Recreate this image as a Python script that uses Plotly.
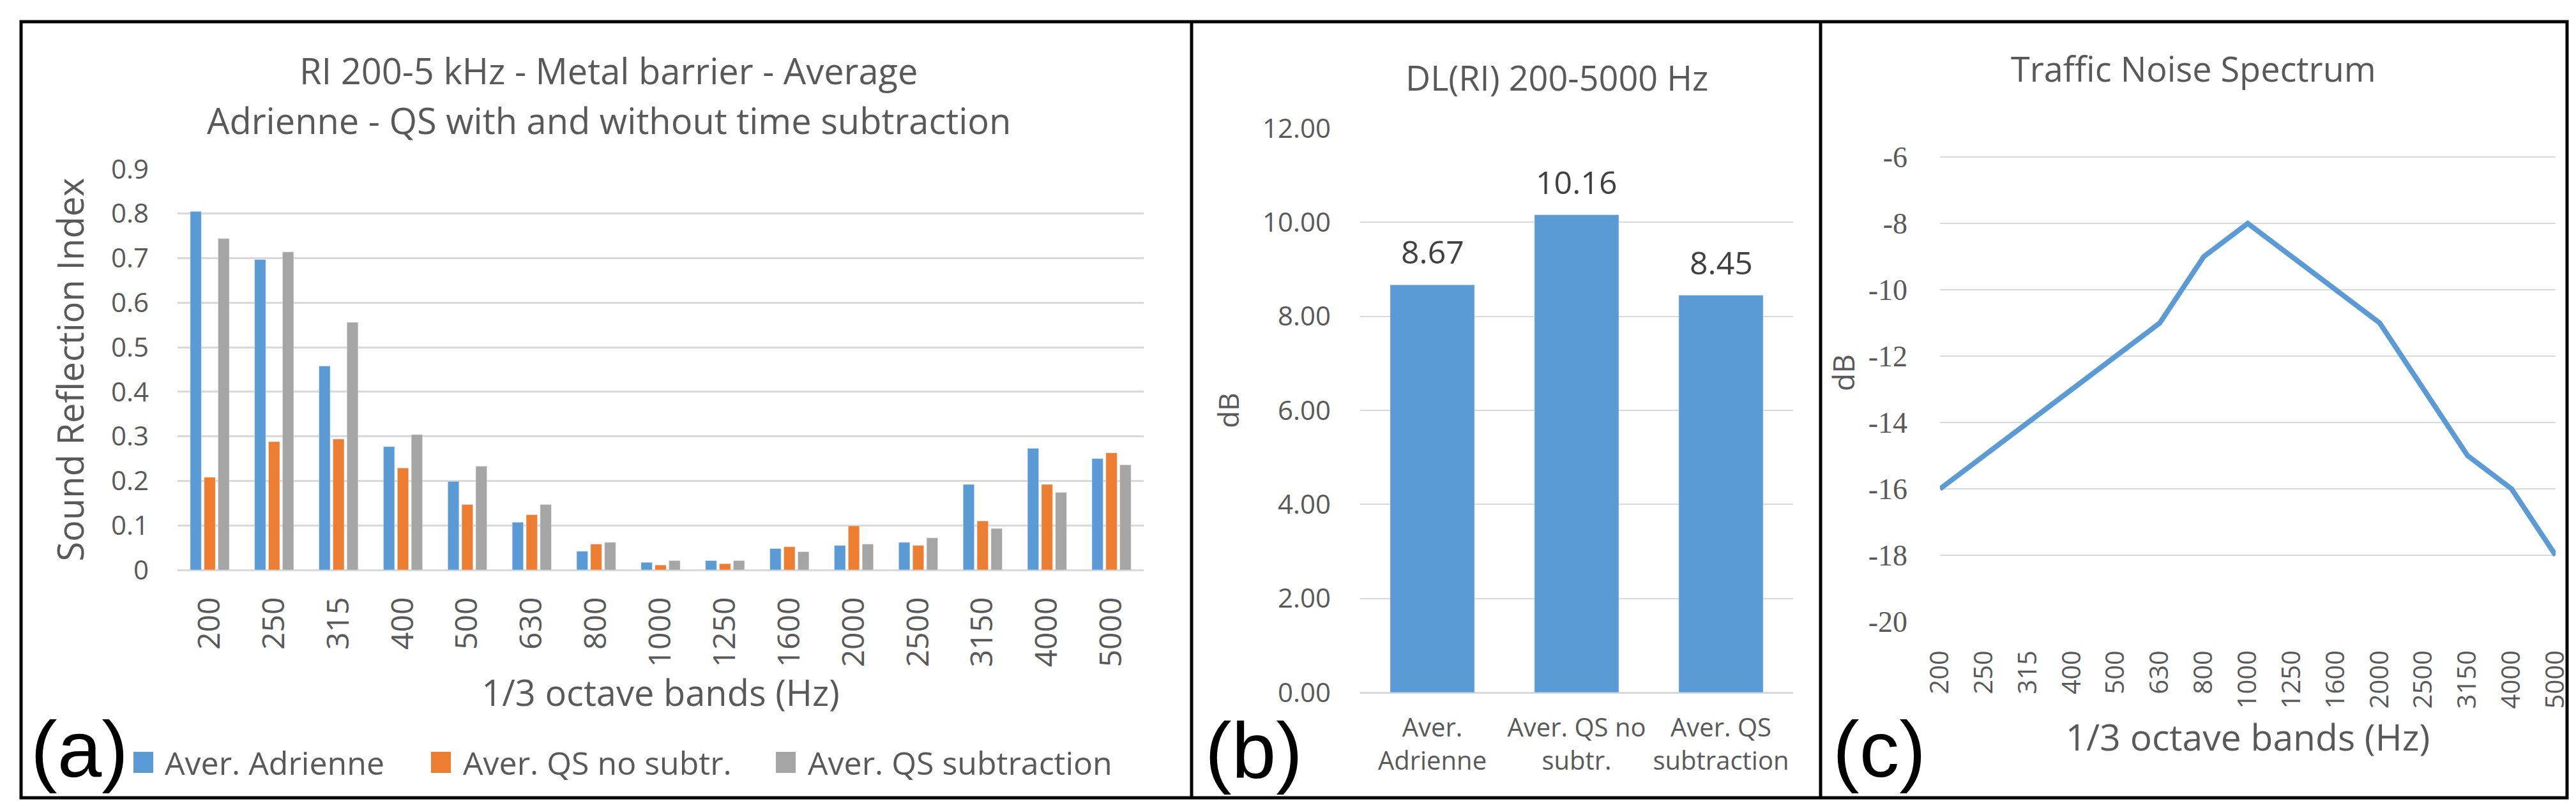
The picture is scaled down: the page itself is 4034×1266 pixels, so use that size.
import plotly.graph_objects as go

# ---------------- data ----------------
bands = ["200", "250", "315", "400", "500", "630", "800", "1000", "1250",
         "1600", "2000", "2500", "3150", "4000", "5000"]
ri_adrienne = [0.805, 0.697, 0.458, 0.277, 0.199, 0.107, 0.042, 0.017, 0.021,
               0.048, 0.055, 0.062, 0.192, 0.273, 0.250]
ri_qs_nosubtr = [0.208, 0.288, 0.294, 0.229, 0.147, 0.124, 0.058, 0.011, 0.014,
                 0.052, 0.099, 0.055, 0.110, 0.192, 0.263]
ri_qs_subtr = [0.744, 0.714, 0.556, 0.304, 0.233, 0.147, 0.062, 0.021, 0.021,
               0.041, 0.058, 0.072, 0.093, 0.174, 0.236]
series_names = ["Aver. Adrienne", "Aver. QS no subtr.", "Aver. QS subtraction"]

dl_categories = ["Aver.<br>Adrienne", "Aver. QS no<br>subtr.", "Aver. QS<br>subtraction"]
dl_values = [8.67, 10.16, 8.45]

traffic_db = [-16, -15, -14, -13, -12, -11, -9, -8, -9, -10, -11, -13, -15, -16, -18]
traffic_major_ticks = [-20, -18, -16, -14, -12, -10, -8, -6]
traffic_grid = [-18, -16, -14, -12, -10, -8, -6, -5]

# ---------------- style ----------------
W, H = 4034, 1266
BLUE, ORANGE, GRAY = "#5B9BD5", "#ED7D31", "#A5A5A5"
TXT = "#595959"
GRID = "#D9D9D9"
FONT = "Open Sans"


def px(x):
    return x / W


def py(y):
    return 1 - y / H


fig = go.Figure()

for vals, name, col in zip([ri_adrienne, ri_qs_nosubtr, ri_qs_subtr], series_names,
                           [BLUE, ORANGE, GRAY]):
    fig.add_trace(go.Bar(x=bands, y=vals, name=name, marker_color=col,
                         xaxis="x", yaxis="y", showlegend=False))

fig.add_trace(go.Bar(x=dl_categories, y=dl_values, name="DL(RI)", marker_color=BLUE,
                     width=0.585, xaxis="x2", yaxis="y2", showlegend=False))

fig.add_trace(go.Scatter(x=bands, y=traffic_db, mode="lines", name="Traffic noise",
                         line=dict(color=BLUE, width=8),
                         xaxis="x3", yaxis="y3", showlegend=False))

axis_common = dict(automargin=False, ticks="", showline=False, color=TXT)

fig.update_layout(
    width=W, height=H,
    margin=dict(l=0, r=0, t=0, b=0),
    paper_bgcolor="white", plot_bgcolor="white",
    font=dict(family=FONT, color=TXT),
    barmode="group", bargap=0.35, bargroupgap=0.2,
    showlegend=False,
    xaxis=dict(domain=[px(270), px(1783)], anchor="y", type="category",
               tickangle=-90, tickfont=dict(size=48, color=TXT),
               ticklabelstandoff=32, showgrid=False, zeroline=False,
               title=dict(text="1/3 octave bands (Hz)", font=dict(size=56, color=TXT),
                          standoff=22),
               **axis_common),
    yaxis=dict(domain=[py(885), py(257)], anchor="x", range=[0, 0.9], dtick=0.1,
               showgrid=True, gridcolor=GRID, gridwidth=3,
               zeroline=True, zerolinecolor=GRID, zerolinewidth=3,
               tickfont=dict(size=42, color=TXT), ticklabelstandoff=44,
               title=dict(text="Sound Reflection Index", font=dict(size=56, color=TXT),
                          standoff=24),
               **axis_common),
    xaxis2=dict(domain=[px(2122), px(2800)], anchor="y2", type="category",
                tickfont=dict(size=40, color=TXT), ticklabelstandoff=28,
                showgrid=False, zeroline=False, **axis_common),
    yaxis2=dict(domain=[py(1077), py(193)], anchor="x2", range=[0, 12], dtick=2,
                tickformat=".2f", showgrid=True, gridcolor=GRID, gridwidth=2,
                zeroline=True, zerolinecolor=GRID, zerolinewidth=3,
                tickfont=dict(size=42, color=TXT), ticklabelstandoff=45,
                title=dict(text="dB", font=dict(size=44, color=TXT), standoff=22),
                **axis_common),
    xaxis3=dict(domain=[px(3030), px(3994)], anchor="y3", type="category",
                tickangle=-90, tickfont=dict(size=40, color=TXT),
                ticklabelstandoff=36, showgrid=False, zeroline=False,
                title=dict(text="1/3 octave bands (Hz)", font=dict(size=57, color=TXT),
                           standoff=26),
                **axis_common),
    yaxis3=dict(domain=[py(966), py(186)], anchor="x3", range=[-20, -5],
                tickvals=traffic_major_ticks,
                ticktext=[str(v) for v in traffic_major_ticks],
                showgrid=False, zeroline=False,
                minor=dict(tickvals=traffic_grid, showgrid=True, gridcolor=GRID,
                           gridwidth=2, ticks=""),
                tickfont=dict(size=46, color=TXT, family="Liberation Serif"),
                ticklabelstandoff=50,
                title=dict(text="dB", font=dict(size=46, color=TXT), standoff=6),
                **axis_common),
)

annotations = [
    dict(x=px(945), y=py(102), text="RI 200-5 kHz - Metal barrier - Average",
         font=dict(size=56, color=TXT)),
    dict(x=px(945), y=py(180), text="Adrienne - QS with and without time subtraction",
         font=dict(size=56, color=TXT)),
    dict(x=px(2430), y=py(113), text="DL(RI) 200-5000 Hz", font=dict(size=54, color=TXT)),
    dict(x=px(3427), y=py(99), text="Traffic Noise Spectrum", font=dict(size=54, color=TXT)),
    dict(x=px(116), y=py(1165), text="(a)",
         font=dict(size=125, color="black", family="Liberation Sans")),
    dict(x=px(1955), y=py(1167), text="(b)",
         font=dict(size=125, color="black", family="Liberation Sans")),
    dict(x=px(2935), y=py(1165), text="(c)",
         font=dict(size=125, color="black", family="Liberation Sans")),
]
for a in annotations:
    a.update(xref="paper", yref="paper", xanchor="center", yanchor="middle",
             showarrow=False)

# data labels of panel (b), placed through the data axes
for cat, val in zip(dl_categories, dl_values):
    annotations.append(dict(x=cat, y=val, xref="x2", yref="y2", text=f"{val:.2f}",
                            xanchor="center", yanchor="middle", yshift=52,
                            showarrow=False,
                            font=dict(size=50, color="#404040", family=FONT)))

# legend of panel (a)
legend_swatch_x = [201, 667, 1207]
legend_text_x = [248, 715, 1255]
for name, col, sx, tx in zip(series_names, [BLUE, ORANGE, GRAY], legend_swatch_x, legend_text_x):
    fig.add_shape(type="rect", xref="paper", yref="paper",
                  x0=px(sx), x1=px(sx + 31), y0=py(1203), y1=py(1170),
                  fillcolor=col, line=dict(width=0))
    annotations.append(dict(x=px(tx), y=py(1187), text=name, xref="paper", yref="paper",
                            xanchor="left", yanchor="middle", showarrow=False,
                            font=dict(size=50, color=TXT)))

fig.update_layout(annotations=annotations)

# panel borders
fig.add_shape(type="rect", xref="paper", yref="paper",
              x0=px(25), x1=px(4012), y0=py(1242), y1=py(26),
              line=dict(color="black", width=5))
for xd in [1858, 2843]:
    fig.add_shape(type="line", xref="paper", yref="paper",
                  x0=px(xd), x1=px(xd), y0=py(1242), y1=py(26),
                  line=dict(color="black", width=5))

fig.write_html("out.html")
